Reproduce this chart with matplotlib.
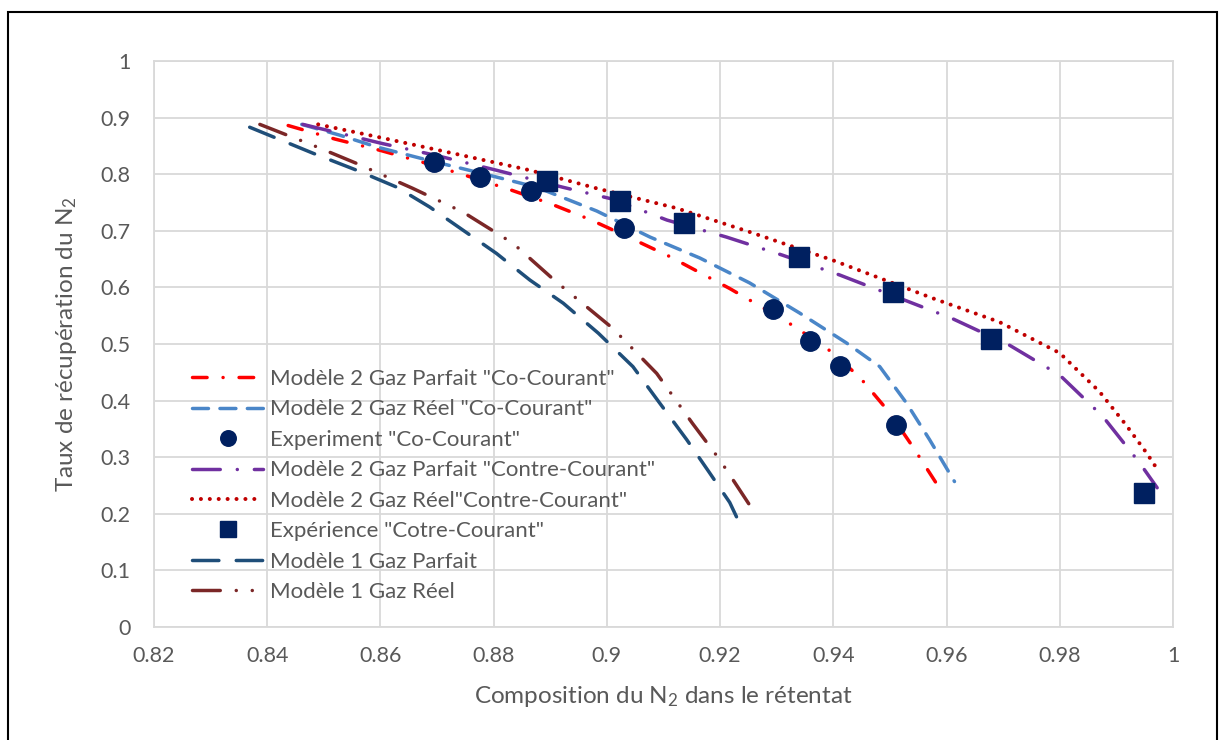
import numpy as np
import matplotlib
matplotlib.use("Agg")
import matplotlib.pyplot as plt
from matplotlib.patches import Rectangle

plt.rcParams['font.family'] = ['Lato', 'DejaVu Sans']

# ---- donnees
# Modele 2 gaz parfait co-courant
x_m2gp_co = [0.8437, 0.852, 0.860, 0.8675, 0.875, 0.8825, 0.890, 0.897, 0.904, 0.911,
             0.9217, 0.9317, 0.9388, 0.9446, 0.9499, 0.954, 0.9587]
y_m2gp_co = [0.886, 0.862, 0.842, 0.821, 0.798, 0.774, 0.748, 0.720, 0.688, 0.655,
             0.598, 0.540, 0.493, 0.442, 0.379, 0.319, 0.246]
# Modele 2 gaz reel co-courant
x_m2gr_co = [0.8461, 0.8528, 0.8594, 0.8687, 0.8781, 0.8876, 0.8982, 0.9076, 0.9164,
             0.9252, 0.934, 0.9423, 0.9482, 0.9529, 0.957, 0.9614]
y_m2gr_co = [0.888, 0.869, 0.848, 0.824, 0.801, 0.777, 0.735, 0.689, 0.652,
             0.608, 0.555, 0.502, 0.460, 0.396, 0.331, 0.257]
# experience co-courant
x_exp_co = [0.8694, 0.8775, 0.8866, 0.9031, 0.9294, 0.9358, 0.9411, 0.951]
y_exp_co = [0.821, 0.795, 0.770, 0.705, 0.562, 0.505, 0.461, 0.357]
# Modele 2 gaz parfait contre-courant
x_m2gp_ct = [0.8463, 0.8604, 0.8699, 0.8805, 0.8922, 0.901, 0.9106, 0.9211, 0.931,
             0.9411, 0.961, 0.9711, 0.98, 0.9876, 0.9941, 0.9972]
y_m2gp_ct = [0.888, 0.854, 0.833, 0.807, 0.777, 0.756, 0.719, 0.689, 0.657,
             0.622, 0.545, 0.498, 0.445, 0.372, 0.290, 0.246]
# Modele 2 gaz reel contre-courant
x_m2gr_ct = [0.849, 0.8599, 0.8746, 0.8864, 0.8982, 0.9123, 0.9252, 0.9399, 0.9575,
             0.9693, 0.98, 0.987, 0.9917, 0.9953, 0.9976]
y_m2gr_ct = [0.888, 0.865, 0.833, 0.807, 0.775, 0.740, 0.698, 0.648, 0.581,
             0.539, 0.484, 0.416, 0.357, 0.308, 0.273]
# experience contre-courant
x_exp_ct = [0.8894, 0.9023, 0.9137, 0.934, 0.9505, 0.9679, 0.9949]
y_exp_ct = [0.788, 0.752, 0.714, 0.654, 0.592, 0.509, 0.237]
# Modele 1 gaz parfait
x_m1gp = [0.8369, 0.8481, 0.8558, 0.8629, 0.8687, 0.8746, 0.8805, 0.8864, 0.8923,
          0.8985, 0.9046, 0.9093, 0.9141, 0.9181, 0.9217, 0.9234]
y_m1gp = [0.883, 0.837, 0.807, 0.777, 0.742, 0.701, 0.660, 0.613, 0.572,
          0.519, 0.460, 0.396, 0.331, 0.273, 0.220, 0.184]
# Modele 1 gaz reel
x_m1gr = [0.8387, 0.8481, 0.8558, 0.8657, 0.8746, 0.8834, 0.8908, 0.901, 0.9088,
          0.9151, 0.9199, 0.9234, 0.9257]
y_m1gr = [0.888, 0.851, 0.819, 0.775, 0.733, 0.678, 0.612, 0.528, 0.448,
          0.360, 0.296, 0.243, 0.208]

xticks = [0.82, 0.84, 0.86, 0.88, 0.9, 0.92, 0.94, 0.96, 0.98, 1]
xtick_labels = ['0.82', '0.84', '0.86', '0.88', '0.9', '0.92', '0.94', '0.96', '0.98', '1']
yticks = [0, 0.1, 0.2, 0.3, 0.4, 0.5, 0.6, 0.7, 0.8, 0.9, 1]
ytick_labels = ['0', '0.1', '0.2', '0.3', '0.4', '0.5', '0.6', '0.7', '0.8', '0.9', '1']

# ---- figure
fig = plt.figure(figsize=(12.2, 7.4), dpi=100)
ax = fig.add_axes([154/1220, 113/740, 1019/1220, 566/740])

lw = 2.5
grey_txt = '#595959'

def courbe(x, y, color, dashes, label, w=lw):
    ax.plot(x, y, color=color, lw=w, dashes=dashes, dash_capstyle='round',
            label=label, zorder=3)

courbe(x_m2gp_co, y_m2gp_co, '#ff0000', (4.2, 4.6, 0.01, 4.6), 'Modèle 2 Gaz Parfait "Co-Courant"')
courbe(x_m2gr_co, y_m2gr_co, '#4a86c8', (4.6, 3.3), 'Modèle 2 Gaz Réel "Co-Courant"')
ax.plot(x_exp_co, y_exp_co, linestyle='none', marker='o', ms=14, color='#002060',
        label='Experiment "Co-Courant"', zorder=5)
courbe(x_m2gp_ct, y_m2gp_ct, '#7030a0', (8.0, 4.9, 0.01, 4.9), 'Modèle 2 Gaz Parfait "Contre-Courant"')
courbe(x_m2gr_ct, y_m2gr_ct, '#c00000', (0.01, 2.2), 'Modèle 2 Gaz Réel"Contre-Courant"', w=2.9)
ax.plot(x_exp_ct, y_exp_ct, linestyle='none', marker='s', ms=14, color='#002060',
        label='Expérience "Cotre-Courant"', zorder=5)
courbe(x_m1gp, y_m1gp, '#1f4e79', (7.6, 5.0), 'Modèle 1 Gaz Parfait')
courbe(x_m1gr, y_m1gr, '#7b2727', (8.0, 4.6, 0.01, 4.6, 0.01, 4.6), 'Modèle 1 Gaz Réel')

ax.set_xlim(0.82, 1.0)
ax.set_ylim(0, 1)
ax.set_xticks(xticks)
ax.set_xticklabels(xtick_labels)
ax.set_yticks(yticks)
ax.set_yticklabels(ytick_labels)
ax.tick_params(length=0, labelsize=15.5, labelcolor=grey_txt)
ax.tick_params(axis='y', pad=17)
ax.tick_params(axis='x', pad=14)
ax.grid(True, color='#d9d9d9', lw=1.3)
ax.set_axisbelow(True)
for s in ax.spines.values():
    s.set_color('#d9d9d9')
    s.set_linewidth(1.3)

ax.set_xlabel('Composition du $\\mathregular{N_2}$ dans le rétentat', fontsize=17.5, color=grey_txt)
ax.set_ylabel('Taux de récupération du $\\mathregular{N_2}$', fontsize=17.5, color=grey_txt)
ax.xaxis.set_label_coords(0.5, -0.101)
ax.yaxis.set_label_coords(-0.074, 0.5)

leg = ax.legend(loc='upper left', bbox_to_anchor=((192-154)/1019, (627-369)/566),
                frameon=False, fontsize=16, handlelength=3.2, handletextpad=0.3,
                labelspacing=0.47, borderpad=0, borderaxespad=0, markerscale=0.8)
for t in leg.get_texts():
    t.set_color(grey_txt)

# cadre noir du graphique
fig.patches.append(Rectangle((8/1220, -0.02), (1217-8)/1220, 1.02-12/740,
                             transform=fig.transFigure, fill=False, ec='black', lw=1.5))

fig.savefig('out.png', dpi=100)
